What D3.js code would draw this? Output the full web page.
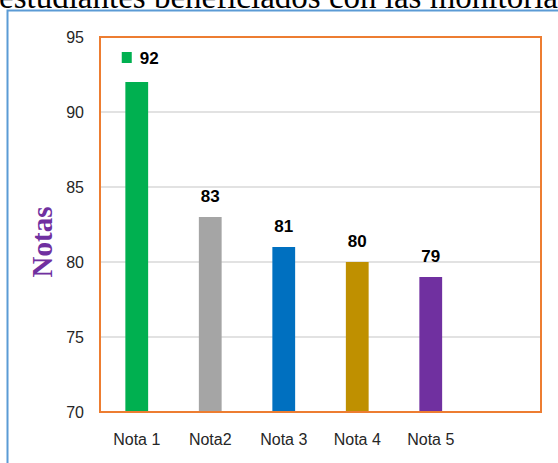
<!DOCTYPE html>
<html>
<head>
<meta charset="utf-8">
<script src="https://cdn.jsdelivr.net/npm/d3@7"></script>
<style>
  body { margin: 0; background: #fff; }
  svg { display: block; }
</style>
</head>
<body>
<svg id="chart" width="558" height="463"></svg>
<script>
// data
const categories = ["Nota 1", "Nota2", "Nota 3", "Nota 4", "Nota 5", ""];
const values = [92, 83, 81, 80, 79];
const yTicks = [70, 75, 80, 85, 90, 95];

const colors = ["#00b050", "#a5a5a5", "#0070c0", "#bf9000", "#7030a0"];

const width = 558;
const height = 463;
const margin = { top: 37, right: 17, bottom: 51, left: 100 };

const svg = d3.select("#chart");

// clipped heading above the frame
svg.append("text")
    .attr("x", -1)
    .attr("y", 8)
    .attr("font-family", "Liberation Serif, Times New Roman, serif")
    .attr("font-size", 33)
    .attr("fill", "#000")
    .text("estudiantes beneficiados con las monitoria");

// blue outer box (runs off the right and bottom)
svg.append("path")
    .attr("d", "M7.5,470 V10.5 H570")
    .attr("fill", "none")
    .attr("stroke", "#5b9bd5")
    .attr("stroke-width", 2);

const x = d3.scaleBand()
    .domain(categories)
    .range([margin.left, width - margin.right])
    .paddingInner(0.69)
    .paddingOuter(0.345);

const y = d3.scaleLinear()
    .domain([70, 95])
    .range([height - margin.bottom, margin.top]);

// gridlines
svg.append("g")
    .selectAll("line")
    .data(yTicks.slice(1, -1))
    .join("line")
    .attr("x1", margin.left)
    .attr("x2", width - margin.right)
    .attr("y1", d => y(d))
    .attr("y2", d => y(d))
    .attr("stroke", "#d9d9d9")
    .attr("stroke-width", 1.5);

// y axis labels
const yAxis = svg.append("g")
    .attr("transform", `translate(${margin.left - 16},0)`)
    .call(d3.axisLeft(y).tickValues(yTicks).tickSize(0).tickPadding(0));
yAxis.select(".domain").remove();
yAxis.selectAll("text")
    .attr("font-family", "Liberation Sans, Arial, sans-serif")
    .attr("font-size", 16)
    .attr("fill", "#262626");

// x axis labels
const xAxis = svg.append("g")
    .attr("transform", `translate(0,${height - margin.bottom + 14})`)
    .call(d3.axisBottom(x).tickSize(0).tickPadding(8));
xAxis.select(".domain").remove();
xAxis.selectAll("text")
    .attr("font-family", "Liberation Sans, Arial, sans-serif")
    .attr("font-size", 16)
    .attr("fill", "#262626");

// bars
svg.append("g")
    .selectAll("rect")
    .data(values)
    .join("rect")
    .attr("x", (d, i) => x(categories[i]))
    .attr("y", d => y(d))
    .attr("width", x.bandwidth())
    .attr("height", d => y(70) - y(d))
    .attr("fill", (d, i) => colors[i]);

// value labels
svg.append("g")
    .selectAll("text")
    .data(values)
    .join("text")
    .attr("x", (d, i) => i === 0 ? x(categories[i]) + x.bandwidth() / 2 + 3 : x(categories[i]) + x.bandwidth() / 2)
    .attr("y", (d, i) => y(d) - (i === 0 ? 18 : 15))
    .attr("text-anchor", (d, i) => i === 0 ? "start" : "middle")
    .attr("font-family", "Liberation Sans, Arial, sans-serif")
    .attr("font-weight", "bold")
    .attr("font-size", 17)
    .attr("fill", "#000")
    .text(d => d);

// legend key beside the first label
svg.append("rect")
    .attr("x", x(categories[0]) + x.bandwidth() / 2 - 15)
    .attr("y", y(values[0]) - 30)
    .attr("width", 10)
    .attr("height", 11)
    .attr("fill", colors[0]);

// plot frame
svg.append("rect")
    .attr("x", margin.left)
    .attr("y", margin.top)
    .attr("width", width - margin.left - margin.right)
    .attr("height", height - margin.top - margin.bottom)
    .attr("fill", "none")
    .attr("stroke", "#ed7d31")
    .attr("stroke-width", 2);

// y title
svg.append("text")
    .attr("transform", "translate(52,242) rotate(-90)")
    .attr("text-anchor", "middle")
    .attr("font-family", "Liberation Serif, Times New Roman, serif")
    .attr("font-weight", "bold")
    .attr("font-size", 29)
    .attr("fill", "#7030a0")
    .text("Notas");
</script>
</body>
</html>
